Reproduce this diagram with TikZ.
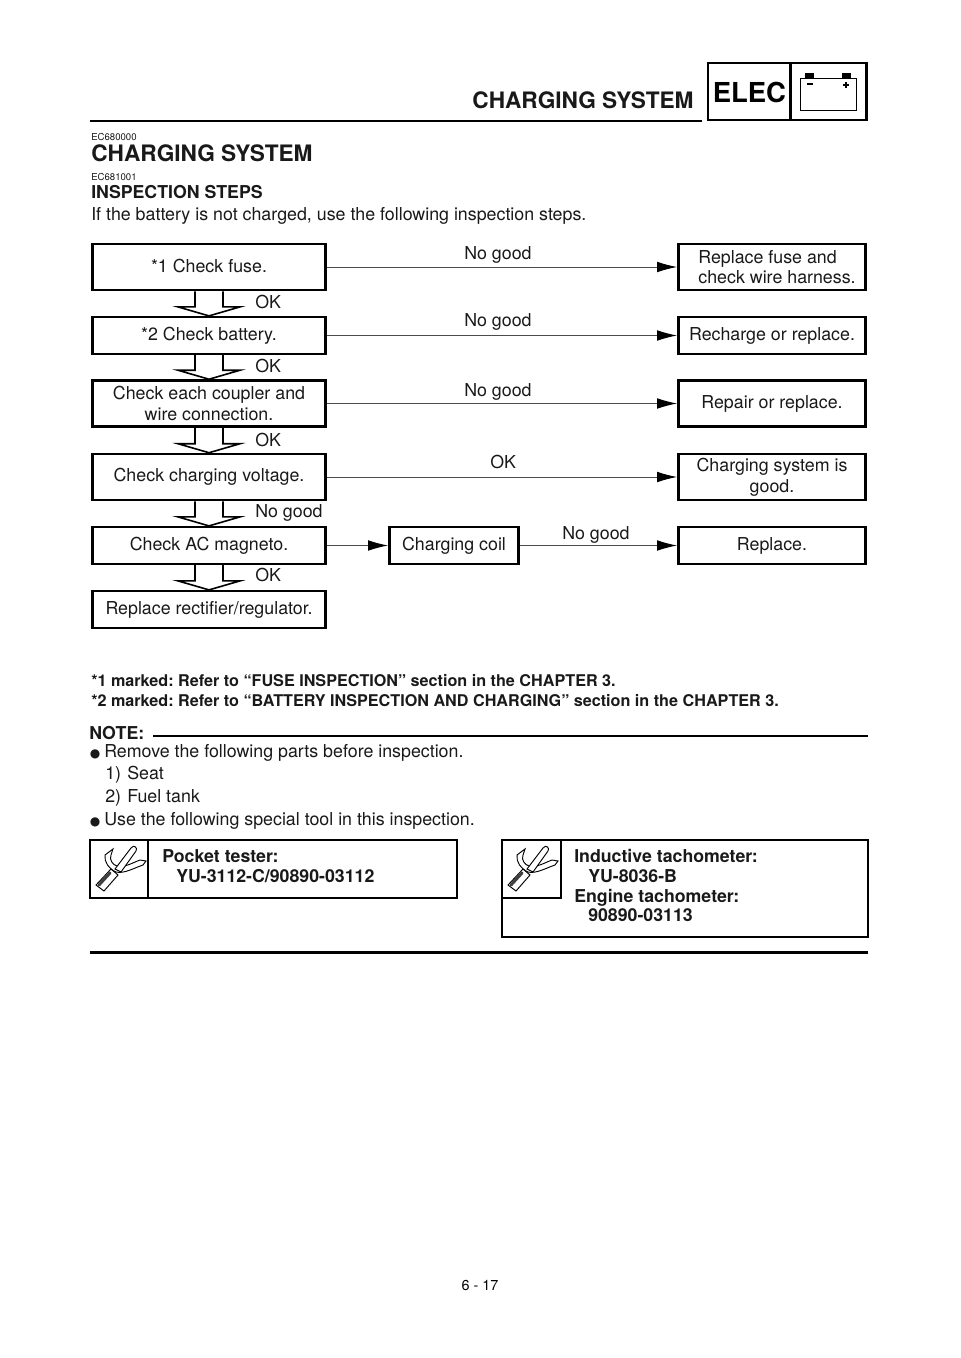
\documentclass[tikz,border=0pt]{standalone}
\usepackage{fontspec}
\setmainfont{TeX Gyre Heros}
\newfontfamily\symbolfont{DejaVu Sans}
\usetikzlibrary{arrows.meta,calc}
\frenchspacing

\newcommand{\bodysize}{\fontsize{13.36pt}{15.5pt}\selectfont}
\newcommand{\boldsize}{\fontsize{13.3pt}{15.5pt}\selectfont\bfseries}
\newcommand{\notesize}{\fontsize{12.13pt}{14pt}\selectfont\bfseries}
\newcommand{\headsize}{\fontsize{17pt}{19pt}\selectfont\bfseries}

\tikzset{
    x=0.75pt, y=-0.75pt,
    flowbox/.style={draw, line width=1.9pt, align=center, inner sep=0pt, font=\bodysize, text=black!90},
    leftbox/.style={flowbox, minimum width=175pt},
    rightbox/.style={flowbox, minimum width=140.5pt},
    tallbox/.style={minimum height=34.5pt},
    lowbox/.style={minimum height=27.5pt},
    flowlabel/.style={anchor=base west, inner sep=0pt, font=\bodysize, text=black!90},
    boldlabel/.style={anchor=base west, inner sep=0pt, font=\boldsize, text=black!90},
    footlabel/.style={anchor=base west, inner sep=0pt, font=\notesize, text=black!90},
    codelabel/.style={anchor=base west, inner sep=0pt, font=\fontsize{7.2pt}{8pt}\selectfont, text=black!90},
    headlabel/.style={anchor=base west, inner sep=0pt, font=\headsize, text=black!90},
    dotlabel/.style={anchor=base west, inner sep=0pt, font=\symbolfont\fontsize{9pt}{10pt}\selectfont, text=black!90},
    flowline/.style={line width=0.7pt, black!70, -{Latex[length=15pt,width=8pt,black]}},
    blockline/.style={line width=1.2pt, line join=miter},
    heavyline/.style={line width=1.9pt},
    framebox/.style={draw, line width=1.9pt, inner sep=0pt},
    pics/toolicon/.style={code={
        % hook arm
        \draw[line width=0.7pt, fill=white] (15,15) -- (23,9) -- (21,15) .. controls (19,20) and (23,25) .. (27,26)
            .. controls (34,28) and (42,23) .. (50,20) -- (56,21) -- (53,25)
            .. controls (44,28) and (34,34) .. (26,32) .. controls (19,29) and (14,22) .. (15,15) -- cycle;
        % handle
        \draw[line width=0.7pt, fill=white] (6,45) -- (21,29) -- (28,35) -- (14,51) -- cycle;
        \draw[line width=2.2pt, black!75, line cap=round] (9,45) -- (20,33);
        % wrench arm
        \draw[line width=0.7pt, fill=white] (25,29) -- (41,8) .. controls (44,4) and (48,8) .. (46,11) -- (31,32) -- cycle;
    }}
}

\begin{document}
\begin{tikzpicture}
    \useasboundingbox (0,0) rectangle (960,1358);

    % Header
    \node[headlabel] (title) at (472,109) {CHARGING SYSTEM};
    \draw[heavyline] (90,121) -- (702,121);
    \node[framebox, minimum width=61.5pt, minimum height=42.5pt] (elecbox) at (749,91.5) {};
    \node[framebox, minimum width=57pt, minimum height=42.5pt] (battbox) at (828.5,91.5) {};
    \node[anchor=base west, inner sep=0pt, font=\fontsize{20.6pt}{22pt}\selectfont\bfseries] (elec) at (712.5,102.5) {ELEC};

    % Battery symbol
    \draw[line width=0.7pt] (800,78) rectangle (856,110);
    \fill (805,73) rectangle (814,78);
    \fill (842,73) rectangle (851,78);
    \draw[line width=0.8pt] (807,84) -- (813,84);
    \draw[line width=0.8pt] (843,85) -- (849,85) (846,82) -- (846,88);

    % Section heads
    \node[codelabel] (code1) at (91,141) {EC680000};
    \node[headlabel] (section) at (91,162) {CHARGING SYSTEM};
    \node[codelabel] (code2) at (91,181) {EC681001};
    \node[boldlabel] (steps) at (91,199) {INSPECTION STEPS};
    \node[flowlabel] (intro) at (91,221) {If the battery is not charged, use the following inspection steps.};

    % Left column
    \node[leftbox, tallbox] (check1) at (209,267) {\raisebox{1.5pt}{*1 Check fuse.}};
    \node[leftbox, lowbox] (check2) at (209,335.5) {*2 Check battery.};
    \node[leftbox, tallbox] (check3) at (209,403.5) {Check each coupler and\\wire connection.};
    \node[leftbox, tallbox] (check4) at (209,477) {Check charging voltage.};
    \node[leftbox, lowbox] (check5) at (209,545.5) {Check AC magneto.};
    \node[leftbox, lowbox] (check6) at (209,609.5) {Replace rectifier/regulator.};

    % Right column
    \node[rightbox, tallbox, align=left] (result1) at (772,267) {\hspace*{7.5pt}Replace fuse and\\\hspace*{7.5pt}check wire harness.};
    \node[rightbox, lowbox] (result2) at (772,335.5) {Recharge or replace.};
    \node[rightbox, tallbox] (result3) at (772,403.5) {Repair or replace.};
    \node[rightbox, tallbox] (result4) at (772,477) {Charging system is\\good.};
    \node[rightbox, lowbox] (result5) at (772,545.5) {Replace.};
    \node[flowbox, minimum width=97pt, lowbox] (coil) at (454,545.5) {Charging coil};

    % Block arrows
    \foreach \from/\to in {check1/check2, check2/check3, check3/check4, check4/check5, check5/check6}
        \draw[blockline] ($(\from.south)+(-14,0)$) |- ($(\to.north)+(-31,-9)$) -- (\to.north)
            -- ($(\to.north)+(31,-9)$) -| ($(\from.south)+(14,0)$);

    % Block arrow labels
    \node[flowlabel] (ok1) at (255,309) {OK};
    \node[flowlabel] (ok2) at (255,373) {OK};
    \node[flowlabel] (ok3) at (255,446) {OK};
    \node[flowlabel] (bad4) at (255,517) {No good};
    \node[flowlabel] (ok5) at (255,581) {OK};

    % Arrows
    \draw[flowline] (check1) -- (result1);
    \draw[flowline] (check2) -- (result2);
    \draw[flowline] (check3) -- (result3);
    \draw[flowline] (check4) -- (result4);
    \draw[flowline] (check5) -- (coil);
    \draw[flowline] (coil) -- (result5);

    % Arrow labels
    \node[flowlabel] (bad1) at (464,260) {No good};
    \node[flowlabel] (bad2) at (464,327) {No good};
    \node[flowlabel] (bad3) at (464,397) {No good};
    \node[flowlabel] (okvolt) at (490,468) {OK};
    \node[flowlabel] (badcoil) at (562,539) {No good};

    % Footnotes
    \node[footlabel] (mark1) at (91,686) {*1 marked: Refer to “FUSE INSPECTION” section in the CHAPTER 3.};
    \node[footlabel] (mark2) at (91,706) {*2 marked: Refer to “BATTERY INSPECTION AND CHARGING” section in the CHAPTER 3.};

    % Note
    \node[boldlabel] (note) at (89,739) {NOTE:};
    \draw[heavyline] (153,736) -- (868,736);
    \node[dotlabel] (dot1) at (89.5,757) {●};
    \node[flowlabel] (remove) at (104,757) {Remove the following parts before inspection.};
    \node[flowlabel] (num1) at (105,779.5) {1)};
    \node[flowlabel] (seat) at (127,779.5) {Seat};
    \node[flowlabel] (num2) at (105,802.5) {2)};
    \node[flowlabel] (tank) at (127,802.5) {Fuel tank};
    \node[dotlabel] (dot2) at (89.5,825) {●};
    \node[flowlabel] (use) at (104,825) {Use the following special tool in this inspection.};

    % Tool boxes
    \draw[heavyline] (90,840) rectangle (457,898);
    \draw[heavyline] (148,840) -- (148,898);
    \pic at (90,840) {toolicon};
    \node[boldlabel] (tool1) at (162,862.5) {Pocket tester:};
    \node[boldlabel] (tool1no) at (176,882) {YU-3112-C/90890-03112};

    \draw[heavyline] (502,840) rectangle (868,937);
    \draw[heavyline] (561,840) -- (561,898) -- (502,898);
    \pic at (502,840) {toolicon};
    \node[boldlabel] (tool2) at (574,862.5) {Inductive tachometer:};
    \node[boldlabel] (tool2no) at (588,882) {YU-8036-B};
    \node[boldlabel] (tool3) at (574,902) {Engine tachometer:};
    \node[boldlabel] (tool3no) at (588,921) {90890-03113};

    % Footer
    \draw[heavyline] (90,952.5) -- (868,952.5);
    \node[anchor=base, inner sep=0pt, font=\fontsize{10.8pt}{13pt}\selectfont] (page) at (480,1290) {6 - 17};
\end{tikzpicture}
\end{document}
